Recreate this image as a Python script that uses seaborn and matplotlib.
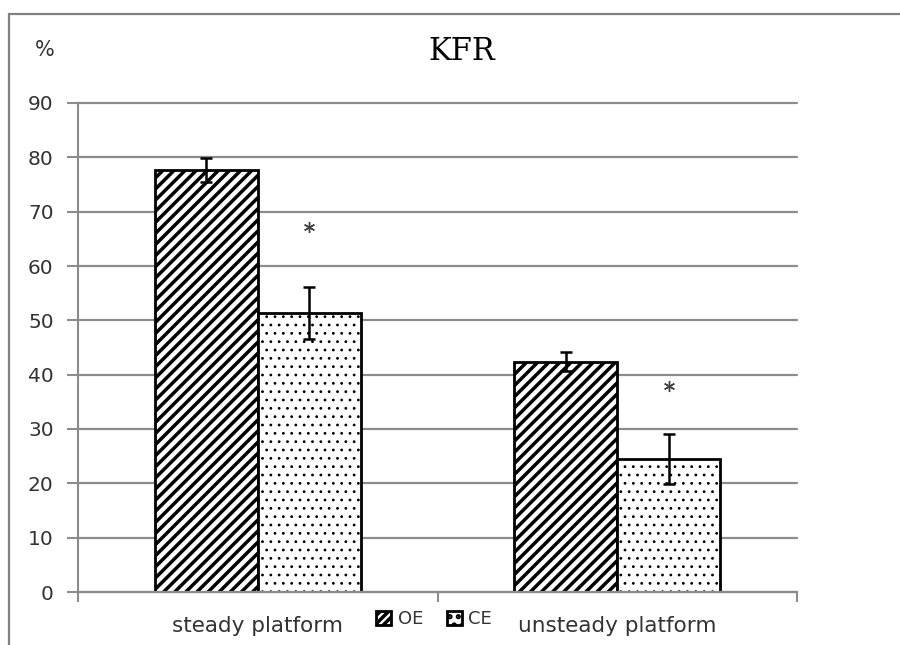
import matplotlib
matplotlib.use("Agg")
import matplotlib.pyplot as plt
import seaborn as sns
import pandas as pd
from matplotlib.patches import Patch, Rectangle

# ---- data ----
categories = ["steady platform", "unsteady platform"]
groups = ["OE", "CE"]
oe_values = [77.7, 42.4]
ce_values = [51.4, 24.4]
oe_err = [2.2, 1.8]
ce_err = [4.8, 4.6]
star_y = [67.2, 37.9]
y_ticks = [0, 10, 20, 30, 40, 50, 60, 70, 80, 90]

df = pd.DataFrame({
    "platform": categories * 2,
    "group": ["OE"] * 2 + ["CE"] * 2,
    "value": oe_values + ce_values,
    "err": oe_err + ce_err,
})

sns.set_theme(style="white")
plt.rcParams["font.family"] = ["DejaVu Sans"]
plt.rcParams["hatch.linewidth"] = 2.5

TXT = "#333333"
GRID = "#8c8c8c"

fig = plt.figure(figsize=(9, 6.45), dpi=100)
ax = fig.add_axes([78 / 900, 1 - 592 / 645, (797 - 78) / 900, (592 - 103) / 645])

sns.barplot(data=df, x="platform", y="value", hue="group", order=categories,
            hue_order=groups, width=0.573, ax=ax,
            palette=["white", "white"], edgecolor="black", linewidth=2.0,
            errorbar=None, legend=False, zorder=3)

hatches = {"OE": "///", "CE": ".."}
for cont, g in zip(ax.containers, groups):
    sub = df[df["group"] == g].set_index("platform").loc[categories]
    xs = []
    for bar in cont.patches:
        bar.set_hatch(hatches[g])
        bar.set_facecolor("white")
        bar.set_edgecolor("black")
        if g == "CE":
            try:
                bar.set_hatch_linewidth(0.8)
            except Exception:
                pass
        xs.append(bar.get_x() + bar.get_width() / 2)
    ax.errorbar(xs, sub["value"].values, yerr=sub["err"].values, fmt="none",
                ecolor="black", elinewidth=1.8, capsize=4.5, capthick=1.8, zorder=5)
    if g == "CE":
        ax.plot(xs, star_y, linestyle="none", marker=(6, 2, 0), markersize=8,
                markeredgewidth=1.0, color="#404040", zorder=6)

ax.set_ylim(0, 90)
ax.set_xlim(-0.5, 1.5)
ax.set_yticks(y_ticks)
ax.yaxis.grid(True, color=GRID, linewidth=1.6)
ax.set_axisbelow(True)
for line in ax.get_ygridlines():
    line.set_clip_on(False)
for s in ["top", "right"]:
    ax.spines[s].set_visible(False)
ax.spines["left"].set_color(GRID)
ax.spines["left"].set_linewidth(1.5)
ax.spines["bottom"].set_color(GRID)
ax.spines["bottom"].set_linewidth(1.6)
ax.spines["bottom"].set_zorder(4)

ax.tick_params(axis="y", which="major", left=True, length=8, width=1.5,
               color=GRID, labelsize=14.5, labelcolor=TXT, pad=9.5)
ax.set_xticks([0, 1])
ax.set_xticklabels(categories)
ax.set_xticks([-0.5, 0.5, 1.5], minor=True)
ax.tick_params(axis="x", which="major", bottom=False, labelsize=15.5,
               labelcolor=TXT, pad=11)
ax.tick_params(axis="x", which="minor", bottom=True, length=7, width=1.5,
               color=GRID)
ax.set_xlabel("")
ax.set_ylabel("")

# legend between category labels
handles = [Patch(facecolor="white", edgecolor="black", hatch="////", linewidth=2, label="OE"),
           Patch(facecolor="white", edgecolor="black", hatch="..", linewidth=2, label="CE")]
fig.legend(handles=handles, loc="center", bbox_to_anchor=(434 / 900, 1 - 619 / 645),
           ncol=2, frameon=False, fontsize=13, handlelength=0.85, handleheight=0.85,
           handletextpad=0.35, columnspacing=1.3, labelcolor=TXT)

fig.text(462 / 900, 1 - 52 / 645, "KFR", ha="center", va="center", fontsize=22,
         family="DejaVu Serif", color="black")
fig.text(45 / 900, 1 - 50 / 645, "%", ha="center", va="center", fontsize=15,
         color=TXT)

# outer chart border (top/left visible)
fig.patches.append(Rectangle((9 / 900, -0.1), 1.2, 1 - 14 / 645 + 0.1,
                             transform=fig.transFigure, fill=False,
                             edgecolor="#808080", linewidth=1.6, zorder=0))

fig.savefig("out.png", dpi=100)
